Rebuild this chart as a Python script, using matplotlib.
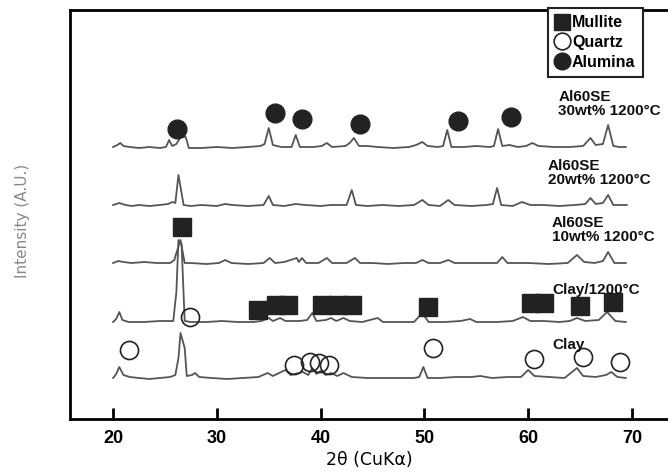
import matplotlib
matplotlib.use("Agg")
import matplotlib.pyplot as plt
from matplotlib.lines import Line2D
from matplotlib.ticker import MultipleLocator

plt.rcParams["font.family"] = ["Liberation Sans", "DejaVu Sans"]

# vertical offsets of the stacked patterns
offsets = {"clay": 42, "clay1200": 98, "al10": 157, "al20": 215, "al30": 273}

# (2theta, intensity above baseline)
al30 = [(20.0, 0), (20.4, 2), (20.7, 4), (21.0, 1), (21.6, 0), (22.5, -1), (23.5, 0), (24.5, -1),
        (25.1, 0), (25.4, 7), (25.7, 1), (26.1, 3), (26.5, 10), (27.0, 10), (27.3, -1), (28.5, -1),
        (30.0, 0), (31.5, -1), (33.0, 0), (34.2, 1), (34.6, 3), (35.0, 19), (35.4, 2), (36.2, 0),
        (37.2, 0), (37.6, 12), (38.0, 0), (39.3, 0), (40.1, 1), (40.6, 4), (41.1, 0), (42.4, 1),
        (42.8, 4), (43.2, 9), (43.7, 1), (44.5, 1), (45.5, 0), (47.0, -1), (48.5, 0), (49.2, 2),
        (49.8, 5), (50.3, 1), (51.3, 0), (51.8, 1), (52.2, 17), (52.6, 0), (53.8, 0), (55.0, 1),
        (56.3, 0), (56.7, 1), (57.1, 18), (57.5, 1), (58.2, 2), (59.0, 0), (59.8, 1), (60.4, 4),
        (61.0, 1), (62.5, 0), (64.0, 0), (65.3, 1), (66.0, 9), (66.5, 2), (67.2, 3), (67.7, 22),
        (68.2, 1), (68.8, 0), (69.4, 0)]
al20 = [(20.0, 0), (20.6, 2), (21.2, 0), (21.8, -1), (22.5, 0), (23.5, -1), (24.5, 0), (25.3, 1),
        (25.7, 3), (26.0, 2), (26.3, 30), (26.8, 0), (27.5, -1), (28.5, 0), (30.0, -1), (30.8, 1),
        (31.5, 0), (33.0, -1), (34.5, 0), (35.0, 9), (35.4, 0), (36.5, -1), (37.6, 1), (38.5, 0),
        (40.0, -1), (41.0, 0), (42.5, 0), (43.0, 15), (43.4, 0), (44.5, -1), (46.0, 0), (47.5, -1),
        (49.0, 0), (49.8, 5), (50.4, 0), (51.5, -1), (52.3, 5), (52.9, 0), (54.5, -1), (56.0, 0),
        (56.6, 1), (57.0, 17), (57.4, 0), (58.5, -1), (59.4, 3), (60.2, 0), (61.5, 0), (63.0, -1),
        (64.5, 0), (65.5, 1), (66.0, 7), (66.5, 1), (67.2, 2), (67.7, 10), (68.2, 0), (69.5, 0)]
al10 = [(20.0, 0), (20.5, 2), (21.0, 1), (21.8, 0), (23.0, 1), (24.2, 0), (25.5, 0), (25.9, 3),
        (26.1, 10), (26.5, 23), (26.9, 0), (27.5, 0), (29.0, -1), (30.2, 0), (30.8, 3), (31.4, 0),
        (33.0, -1), (34.5, 0), (35.1, 5), (35.6, 0), (36.5, 1), (37.7, 5), (37.9, 1), (38.2, 5),
        (38.6, 0), (39.8, 0), (40.6, 5), (41.1, 0), (42.5, 0), (43.3, 5), (43.8, 0), (45.0, 0),
        (46.5, -1), (48.0, 0), (49.2, 0), (49.8, 3), (50.4, 0), (51.5, 0), (52.3, 3), (52.9, 0),
        (55.0, 0), (57.0, 0), (57.5, 6), (58.0, 0), (60.0, 0), (62.0, -1), (63.8, 0), (64.7, 8),
        (65.4, 1), (66.4, 0), (67.2, 2), (67.7, 11), (68.3, 0), (69.4, 0)]
clay1200 = [(20.0, 0), (20.3, 3), (20.6, 10), (20.9, 2), (21.5, 0), (23.0, 0), (24.5, 1), (25.8, 1),
            (26.1, 30), (26.3, 82), (26.6, 78), (26.9, 1), (27.5, 0), (29.0, 0), (30.5, 1), (32.0, 0),
            (33.5, 0), (34.3, 1), (35.0, 4), (35.4, 1), (36.1, 4), (36.6, 1), (38.0, 1), (38.7, 2),
            (39.2, 9), (39.6, 1), (40.5, 2), (41.0, 4), (41.5, 1), (42.2, 4), (42.8, 1), (44.0, 0),
            (45.5, 4), (46.0, 0), (47.5, 0), (49.0, 0), (49.8, 9), (50.4, 0), (52.0, 0), (53.5, 1),
            (54.4, 3), (55.0, 0), (57.0, 0), (58.5, 1), (59.5, 5), (60.2, 1), (61.5, 1), (63.0, 0),
            (64.0, 1), (64.7, 4), (65.5, 1), (66.8, 2), (67.6, 10), (68.4, 1), (69.4, 0)]
clay = [(20.0, 0), (20.3, 4), (20.6, 11), (21.0, 3), (21.6, 1), (22.5, 0), (23.5, -1), (24.5, 0),
        (25.5, 1), (26.0, 3), (26.3, 20), (26.5, 45), (26.9, 30), (27.1, 2), (27.6, 3), (27.9, 5),
        (28.3, 1), (29.5, 0), (31.0, -1), (32.5, 0), (34.0, 1), (34.9, 5), (35.4, 2), (36.6, 8),
        (37.1, 3), (38.3, 6), (38.8, 3), (39.2, 10), (39.6, 4), (40.0, 7), (40.5, 3), (41.0, 5),
        (41.6, 2), (42.2, 5), (43.0, 1), (44.5, 0), (46.0, 0), (47.5, 0), (49.0, 0), (49.5, 1),
        (49.9, 11), (50.3, 0), (51.5, 0), (53.0, 1), (54.5, 1), (55.4, 2), (56.5, 0), (58.0, 1),
        (59.3, 1), (60.0, 8), (60.6, 2), (62.0, 1), (63.5, 0), (64.7, 10), (65.3, 2), (66.5, 1),
        (67.5, 3), (68.0, 6), (68.6, 1), (69.4, 0)]

# phase markers (2theta, height)
alumina_tt = [26.2, 35.6, 38.2, 43.8, 53.2, 58.3]
alumina_y = [291, 307, 301, 296, 299, 303]
mullite_tt = [26.6, 34.0, 35.7, 36.9, 40.1, 41.7, 43.0, 50.3, 60.3, 61.5, 65.0, 68.2]
mullite_y = [193, 110, 115, 115, 115, 115, 115, 113, 117, 117, 114, 118]
quartz_tt = [27.4, 21.5, 37.4, 39.0, 39.8, 40.8, 50.8, 60.6, 65.3, 68.8]
quartz_y = [103, 70, 55, 58, 57, 55, 72, 61, 63, 58]

# sample labels: (2theta, height, text)
labels = [(62.9, 316, "Al60SE\n30wt% 1200°C"),
          (61.9, 247, "Al60SE\n20wt% 1200°C"),
          (62.3, 190, "Al60SE\n10wt% 1200°C"),
          (62.3, 130, "Clay/1200°C"),
          (62.3, 75, "Clay")]

fig = plt.figure(figsize=(6.68, 4.72), dpi=100)
ax = fig.add_axes([70 / 668, 1 - 419 / 472, 1 - 70 / 668, 409 / 472])

for name, pts in [("al30", al30), ("al20", al20), ("al10", al10),
                  ("clay1200", clay1200), ("clay", clay)]:
    tt = [p[0] for p in pts]
    inten = [p[1] + offsets[name] for p in pts]
    ax.plot(tt, inten, color="#555555", lw=1.3, zorder=2)

ax.plot(alumina_tt, alumina_y, "o", ms=13.5, color="#222222", zorder=3)
ax.plot(mullite_tt, mullite_y, "s", ms=12.5, color="#222222", zorder=3)
ax.plot(quartz_tt, quartz_y, "o", ms=13, mfc="none", mec="#222222", mew=1.2, zorder=3)

for x, y, s in labels:
    ax.text(x, y, s, fontsize=11, fontweight="bold", ha="left", va="center",
            linespacing=1.0, color="#111111")

ax.set_xlim(15.85, 73.47)
ax.set_ylim(1, 410)
ax.xaxis.set_major_locator(MultipleLocator(10))
ax.set_yticks([])
ax.tick_params(axis="x", direction="in", length=8, width=2, labelsize=13, pad=8)
for lab in ax.get_xticklabels():
    lab.set_fontweight("bold")
for side in ["left", "top", "bottom"]:
    ax.spines[side].set_linewidth(2)
ax.spines["right"].set_visible(False)

ax.set_xlabel("2θ (CuKα)", fontsize=12.5, labelpad=3, family="DejaVu Sans")
fig.text(22 / 668, 1 - 221 / 472, "Intensity (A.U.)", rotation=90, fontsize=11,
         color="#888888", ha="center", va="center", family="DejaVu Sans")

handles = [Line2D([], [], ls="none", marker="s", ms=12, color="#222222"),
           Line2D([], [], ls="none", marker="o", ms=12, mfc="none", mec="#222222", mew=1.2),
           Line2D([], [], ls="none", marker="o", ms=12, color="#222222")]
leg = ax.legend(handles, ["Mullite", "Quartz", "Alumina"], loc="upper left",
                bbox_to_anchor=(548 / 668, 1 - 8 / 472), bbox_transform=fig.transFigure,
                fancybox=False, edgecolor="#222222", framealpha=1, handlelength=0.9,
                handletextpad=0.15, labelspacing=0.3, borderpad=0.45, borderaxespad=0,
                prop={"weight": "bold", "size": 11.5})
leg.get_frame().set_linewidth(1.5)

fig.savefig("out.png", dpi=100)
